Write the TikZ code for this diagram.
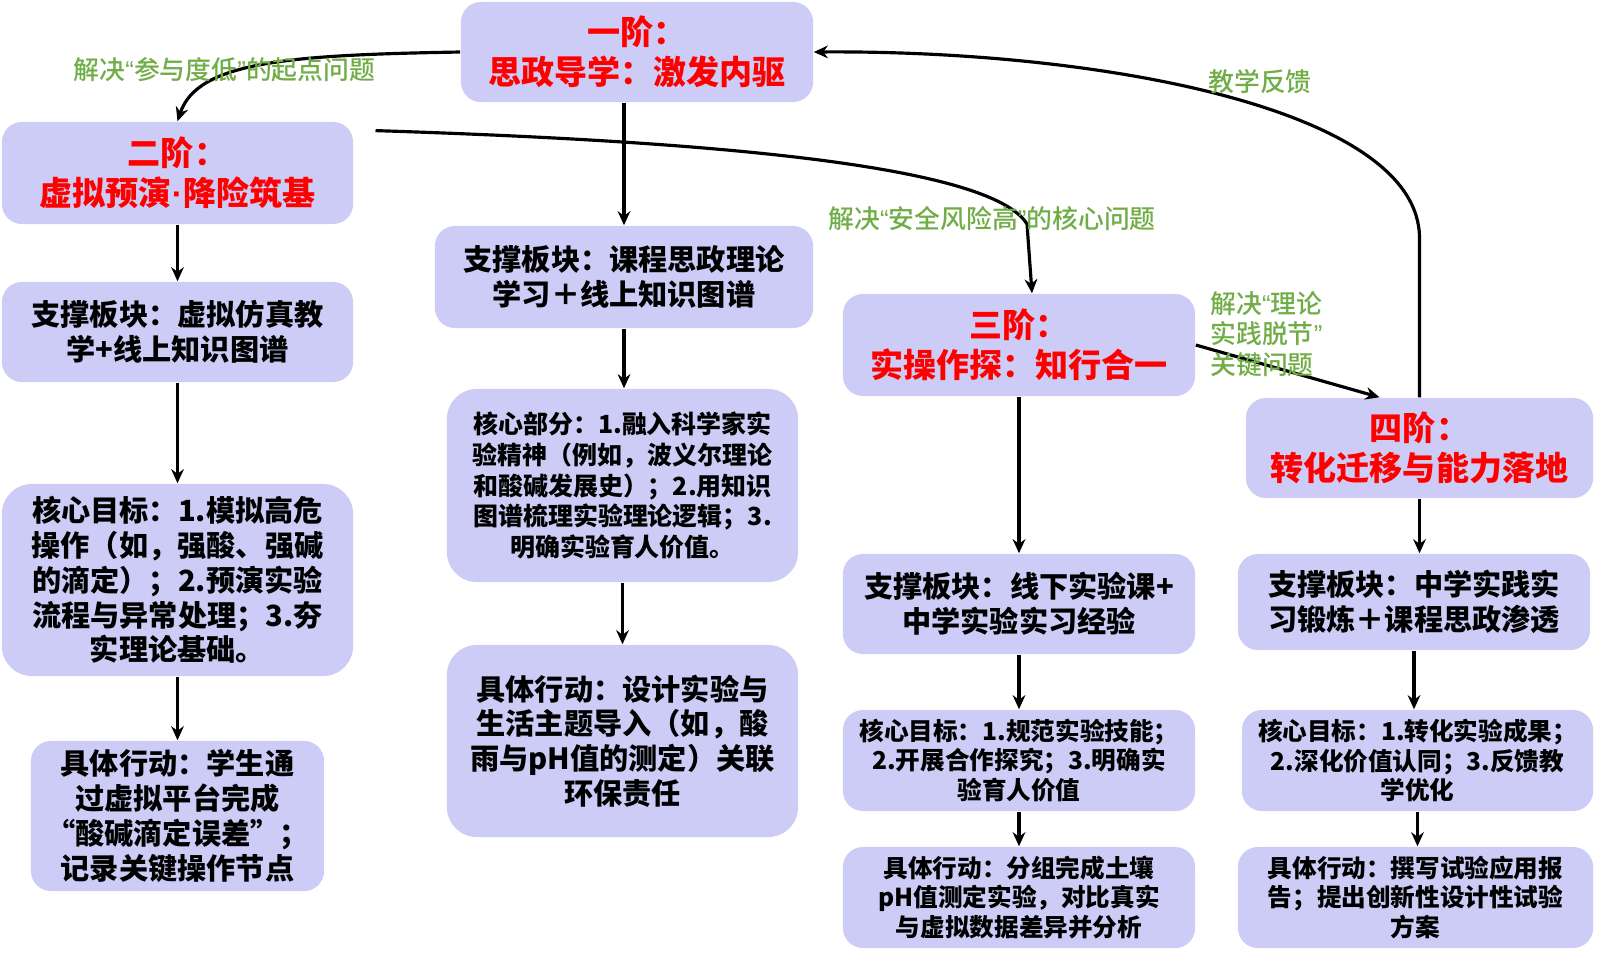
\documentclass[tikz,border=0pt]{standalone}
\usepackage{fontspec}
\setmainfont{Noto Sans CJK SC}
\newfontfamily\notefont{Noto Sans CJK SC}[UprightFont=* Medium]
\newfontfamily\latinfont{Liberation Sans}
\newcommand{\qopen}{{\latinfont “}}
\newcommand{\qclose}{{\latinfont ”}}
\usetikzlibrary{arrows.meta}
\definecolor{cLav}{HTML}{CCCCF7}
\definecolor{cRed}{HTML}{FF0000}
\definecolor{cGreen}{HTML}{70AD47}

\begin{document}
\begin{tikzpicture}[x=0.01cm, y=0.01cm, >={Stealth[length=4pt,width=3.6pt]},
    card/.style={fill=cLav, rounded corners=0.2cm, align=center, inner sep=2pt},
    stage/.style={card, text=cRed, font=\fontsize{9.4}{11.3}\selectfont\bfseries},
    big/.style={card, font=\fontsize{8.3}{9.9}\selectfont\bfseries},
    mid/.style={card, rounded corners=0.3cm, font=\fontsize{7.1}{8.75}\selectfont\bfseries},
    small/.style={card, font=\fontsize{7}{8.5}\selectfont\bfseries},
    note/.style={text=cGreen, font=\fontsize{7.35}{8.6}\selectfont\notefont},
    link/.style={->, line width=0.9pt}]
    \useasboundingbox (0,0) rectangle (1600,959);

    % stages
    \node[stage, minimum width=3.52cm, minimum height=1.00cm] (s1) at (637,907)    {一阶：\\思政导学：激发内驱};
    \node[stage, minimum width=3.51cm, minimum height=1.02cm] (s2) at (177.5,786)  {二阶：\\虚拟预演{\latinfont ·}降险筑基};
    \node[stage, minimum width=3.52cm, minimum height=1.02cm] (s3) at (1019,614)   {三阶：\\实操作探：知行合一};
    \node[stage, minimum width=3.47cm, minimum height=1.00cm] (s4) at (1419.5,511) {四阶：\\转化迁移与能力落地};

    % column of stage 2
    \node[big, minimum width=3.51cm, minimum height=1.00cm] (b2) at (177.5,627) {支撑板块：虚拟仿真教\\学+线上知识图谱};
    \node[big, rounded corners=0.3cm, minimum width=3.51cm, minimum height=1.92cm] (c2) at (177.5,379)
      {核心目标：1.模拟高危\\操作（如，强酸、强碱\\的滴定）；2.预演实验\\流程与异常处理；3.夯\\实理论基础。};
    \node[big, minimum width=2.93cm, minimum height=1.50cm] (a2) at (177.5,143)
      {具体行动：学生通\\过虚拟平台完成\\“酸碱滴定误差”；\\记录关键操作节点};

    % column of stage 1
    \node[big, minimum width=3.78cm, minimum height=1.02cm] (b1) at (624,682) {支撑板块：课程思政理论\\学习＋线上知识图谱};
    \node[mid, minimum width=3.51cm, minimum height=1.93cm] (c1) at (622.5,473.5)
      {核心部分：1.融入科学家实\\验精神（例如，波义尔理论\\和酸碱发展史）；2.用知识\\图谱梳理实验理论逻辑；3.\\明确实验育人价值。};
    \node[big, rounded corners=0.3cm, minimum width=3.51cm, minimum height=1.92cm] (a1) at (622.5,218)
      {具体行动：设计实验与\\生活主题导入（如，酸\\雨与pH值的测定）关联\\环保责任};

    % column of stage 3
    \node[big, minimum width=3.52cm, minimum height=1.00cm] (b3) at (1019,355) {支撑板块：线下实验课+\\中学实验实习经验};
    \node[small, minimum width=3.52cm, minimum height=1.01cm] (c3) at (1019,198.5)
      {核心目标：1.规范实验技能；\\2.开展合作探究；3.明确实\\验育人价值};
    \node[small, minimum width=3.52cm, minimum height=1.01cm] (a3) at (1019,61.5)
      {具体行动：分组完成土壤\\pH值测定实验，对比真实\\与虚拟数据差异并分析};

    % column of stage 4
    \node[big, minimum width=3.52cm, minimum height=0.96cm] (b4) at (1414,357) {支撑板块：中学实践实\\习锻炼＋课程思政渗透};
    \node[small, minimum width=3.51cm, minimum height=1.01cm] (c4) at (1417.5,198.5)
      {核心目标：1.转化实验成果；\\2.深化价值认同；3.反馈教\\学优化};
    \node[small, minimum width=3.55cm, minimum height=1.01cm] (a4) at (1415.5,61.5)
      {具体行动：撰写试验应用报\\告；提出创新性设计性试验\\方案};

    % straight links
    \foreach \a/\b in {s2/b2, b2/c2, c2/a2, b1/c1, c1/a1, s3/b3, b3/c3, c3/a3, s4/b4, b4/c4, c4/a4}
      \draw[link] (\a.south) -- (\a.south |- \b.north);
    \draw[link] (s1.south -| b1.north) -- (b1.north);

    % curved links
    \coordinate (s2out) at (375.5,828.4);
    \draw[link] (s1.west) .. controls +(-170,-3) and +(20,60) .. (s2.north);
    \draw[link] (s2out) .. controls (700,818) and (990,795) .. (1027,735) -- ([xshift=0.13cm]s3.north);
    \draw[link] (s3.east) -- ([xshift=-0.4cm]s4.north);
    \draw[link] (s4.north) -- ++(0,159) .. controls +(0,130) and +(284,2) .. (s1.east);

    % labels
    \node[note] (n1) at (224.5,889.6) {解决\qopen 参与度低\qclose 的起点问题};
    \node[note] (n2) at (992,740.6) {解决\qopen 安全风险高\qclose 的核心问题};
    \node[note, anchor=west, align=left] (n3) at (1198,625) {解决\qopen 理论\\实践脱节\qclose\\关键问题};
    \node[note] (n4) at (1260,877) {教学反馈};
\end{tikzpicture}
\end{document}
